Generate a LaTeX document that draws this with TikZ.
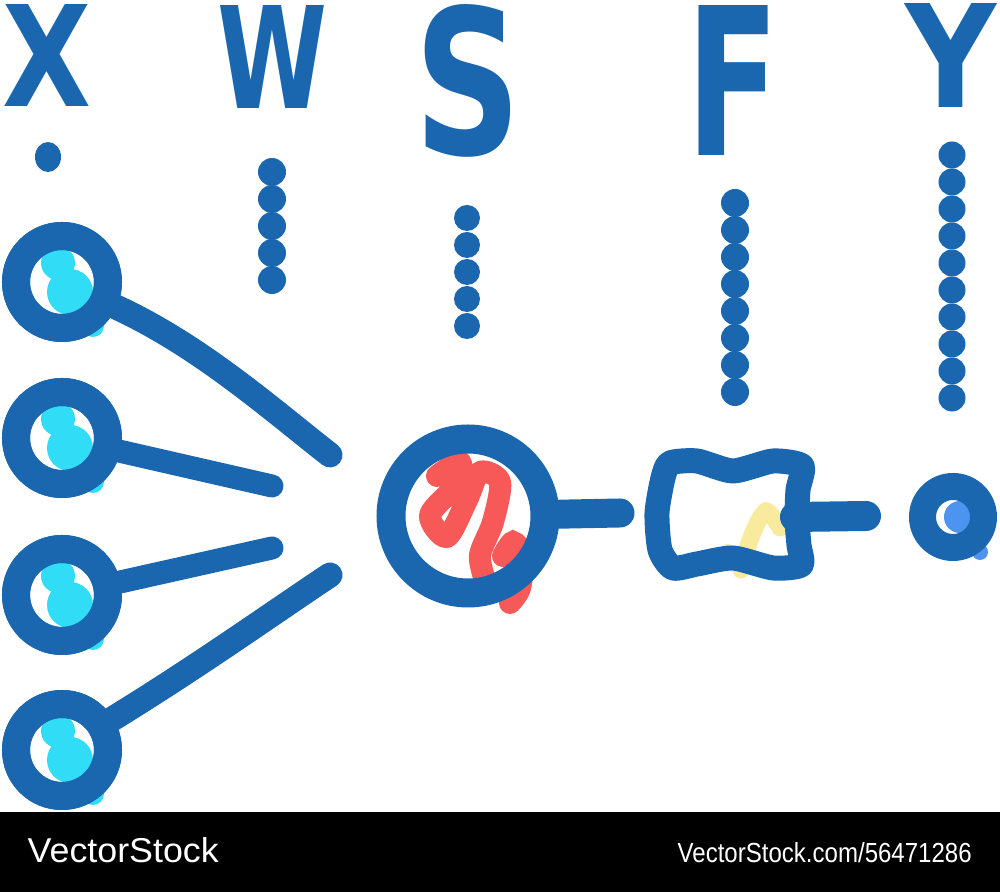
\documentclass[tikz,border=0pt]{standalone}
\usepackage{fontspec}
\usepackage{graphicx}
\setmainfont{Liberation Sans}
\newfontfamily\glyphfont{DejaVu Sans}
\definecolor{ink}{RGB}{26,103,176}
\definecolor{aqua}{RGB}{49,221,246}
\definecolor{coral}{RGB}{247,88,88}
\definecolor{straw}{RGB}{249,235,157}
\definecolor{sky}{RGB}{76,148,240}
\newcommand{\glyph}[3]{\resizebox{#1}{#2}{\glyphfont\bfseries #3}}

\begin{document}
\begin{tikzpicture}[x=0.1mm,y=-0.1mm,
  ring/.style={circle,draw=ink,inner sep=0pt},
  link/.style={draw=ink,line width=2.5mm,line cap=round},
  letter/.style={inner sep=0pt,text=ink}]
\useasboundingbox (0,0) rectangle (1000,892);
\fill[black] (0,812) rectangle (1000,892);
\node[inner sep=0pt,text=white,anchor=base west] (brand) at (27,863) {\resizebox{19.1mm}{2.5mm}{VectorStock}};
\node[inner sep=0pt,text=white,anchor=base west] (ref) at (677,863) {\resizebox{29.4mm}{2.0mm}{VectorStock.com/56471286}};
\node[letter] (lx) at (47,56) {\glyph{8.9mm}{10.2mm}{X}};
\node[letter] (lw) at (273,57) {\glyph{11mm}{10.3mm}{W}};
\node[letter] (ls) at (468,81) {\glyph{10.7mm}{15mm}{S}};
\node[letter] (lf) at (733,80) {\glyph{9.3mm}{15mm}{F}};
\node[letter] (ly) at (951,56) {\glyph{9.1mm}{10.4mm}{Y}};
\fill[ink] (48,157) ellipse (1.3mm and 1.5mm);
\foreach \k in {0,...,4}
  \fill[ink] (272,{172+27*\k}) circle (1.4mm);
\foreach \k in {0,...,4}
  \fill[ink] (467,{218+27*\k}) circle (1.3mm);
\foreach \k in {0,...,7}
  \fill[ink] (735,{203+27*\k}) circle (1.4mm);
\foreach \k in {0,...,9}
  \fill[ink] (952,{155+27*\k}) circle (1.35mm);
\foreach \i/\y in {1/282,2/438,3/595,4/750} {
  \fill[aqua] (58,{\y-19}) circle (1.7mm);
  \fill[aqua] (70,{\y+10}) circle (2.3mm);
  \fill[aqua] (93,{\y+44}) circle (1.1mm);
}
\coordinate (e1) at (330,455);
\coordinate (e2) at (272,486);
\coordinate (e3) at (272,548);
\coordinate (e4) at (330,575);
\foreach \i/\y in {1/282,2/438,3/595,4/750}
  \node[ring,line width=2.8mm,minimum size=9.2mm] (x\i) at (62,\y) {};
\draw[link] (x1) .. controls (200,346) and (270,408) .. (e1);
\draw[link,line width=2.3mm] (x2) -- (e2);
\draw[link,line width=2.3mm] (x3) -- (e3);
\draw[link] (x4) .. controls (200,665) and (270,615) .. (e4);
\foreach \i in {1,...,4}
  \node[ring,line width=2.8mm,minimum size=9.2mm] at (x\i) {};
\draw[coral,line width=2.2mm,line cap=round,line join=round] plot[smooth] coordinates {(437,476) (460,462) (457,484) (430,515) (447,537) (467,500) (480,472) (500,482) (493,522) (480,555) (485,580)};
\draw[coral,line width=2.2mm,line cap=round] plot[smooth] coordinates {(503,556) (513,542) (523,556) (520,588) (510,603)};
\node[ring,line width=2.9mm,minimum size=15.4mm] (sum) at (468,516) {};
\coordinate (s1) at (620,513);
\draw[link,line width=2.9mm] (sum) -- (s1);
\fill[straw] (728,553) circle (0.9mm);
\draw[straw,line width=1.7mm,line cap=round] plot[smooth] coordinates {(741,570) (752,535) (766,511) (780,528)};
\draw[ink,line width=2.5mm,line join=round] plot[smooth cycle,tension=0.4] coordinates {(670,463) (697,461) (733,471) (773,461) (802,466) (798,490) (797,520) (799,545) (801,565) (773,568) (733,558) (697,564) (673,568) (660,550) (657,513) (663,478)};
\coordinate (f0) at (795,517);
\coordinate (f1) at (866,516);
\draw[link,line width=3mm] (f0) -- (f1);
\fill[sky] (960,517) circle (1.6mm);
\fill[sky] (980,552) circle (0.8mm);
\node[ring,line width=2.7mm,minimum size=6.1mm] (out) at (953,517) {};
\end{tikzpicture}
\end{document}
